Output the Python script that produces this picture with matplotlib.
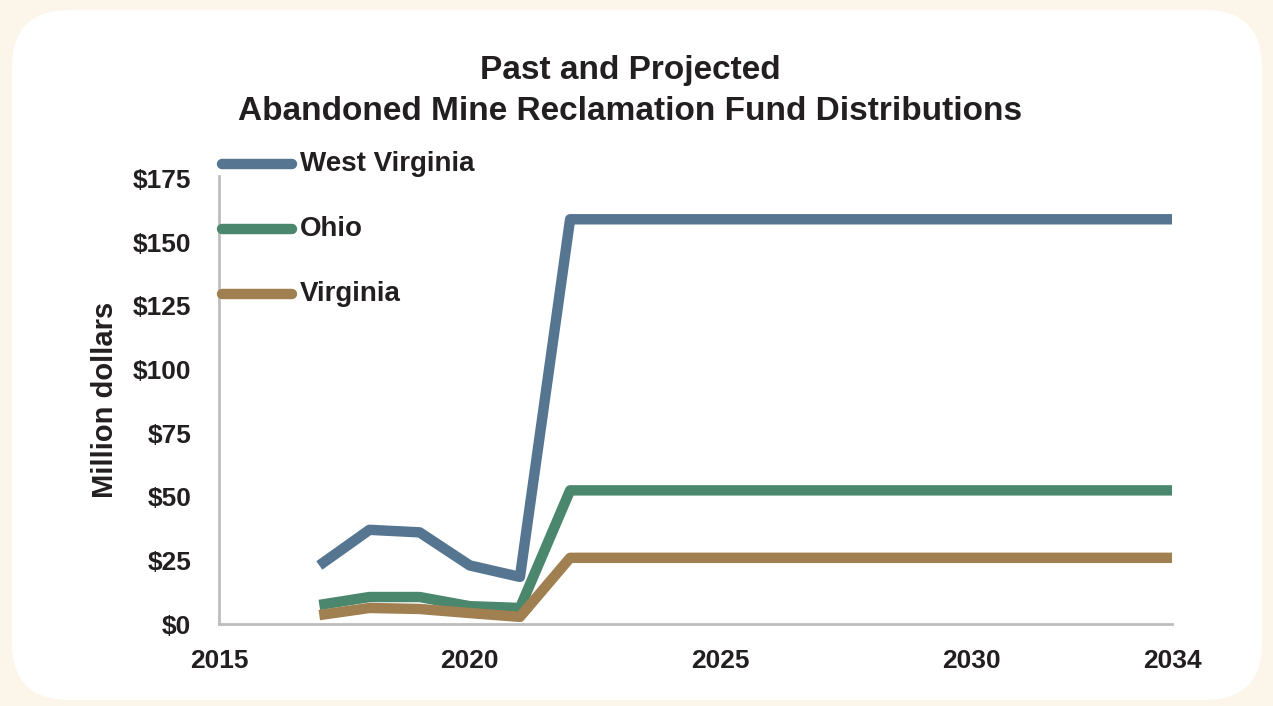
import matplotlib
matplotlib.use("Agg")
import matplotlib.pyplot as plt
from matplotlib.patches import FancyBboxPatch

plt.rcParams['font.family'] = ['Liberation Sans', 'DejaVu Sans']

years = [2017, 2018, 2019, 2020, 2021, 2022, 2034]
west_virginia = [23, 37, 36, 23, 18.5, 159, 159]
ohio = [7.5, 10.6, 10.6, 7, 6.3, 52.5, 52.5]
virginia = [3.5, 6.3, 5.9, 4.3, 2.8, 26, 26]
series_names = ["West Virginia", "Ohio", "Virginia"]
colors = ["#557591", "#4a876c", "#a08050"]
yticks = [0, 25, 50, 75, 100, 125, 150, 175]
xticks = [2015, 2020, 2025, 2030, 2034]

fig = plt.figure(figsize=(12.73, 7.06), dpi=100)
fig.patch.set_facecolor("#fcf5ea")
panel = FancyBboxPatch((12/1273, 6/706), 1250/1273, 690/706,
                       boxstyle="round,pad=0,rounding_size=0.045",
                       transform=fig.transFigure, facecolor="white",
                       edgecolor="none", mutation_aspect=1273/706, zorder=-5)
fig.patches.append(panel)

ax = fig.add_axes([219/1273, 1-624/706, (1172-219)/1273, (624-176)/706])
ax.set_facecolor("none")
ax.set_zorder(2)
for vals, c in zip([west_virginia, ohio, virginia], colors):
    ax.plot(years, vals, color=c, lw=7.5, solid_capstyle="butt",
            solid_joinstyle="round", clip_on=False, zorder=3)

ax.set_xlim(2015, 2034)
ax.set_ylim(0, 176)
ax.set_xticks(xticks)
ax.set_xticklabels([str(x) for x in xticks])
ax.set_yticks(yticks)
ax.set_yticklabels([f"${v}" for v in yticks])
ax.tick_params(length=0, labelsize=19, pad=20)
ax.tick_params(axis='x', pad=18)
for lab in ax.get_xticklabels() + ax.get_yticklabels():
    lab.set_fontweight("bold")
    lab.set_color("#231f20")
for s in ["top", "right"]:
    ax.spines[s].set_visible(False)
for s in ["left", "bottom"]:
    ax.spines[s].set_color("#bdbdbd")
    ax.spines[s].set_linewidth(2)
ax.set_ylabel("Million dollars", fontsize=21, fontweight="bold", color="#231f20", labelpad=10)

# legend
leg_y = [164, 229, 294]
for name, c, py in zip(series_names, colors, leg_y):
    yf = 1 - py/706
    fig.add_artist(plt.Line2D([222/1273, 292/1273], [yf, yf], color=c, lw=7.5,
                              solid_capstyle="round", transform=fig.transFigure, zorder=4))
    fig.text(300/1273, yf, name, fontsize=20, fontweight="bold", color="#231f20",
             va="center", ha="left")

fig.text(630/1273, 1-70/706, "Past and Projected", fontsize=24, fontweight="bold",
         color="#231f20", ha="center", va="center")
fig.text(630/1273, 1-111/706, "Abandoned Mine Reclamation Fund Distributions", fontsize=24,
         fontweight="bold", color="#231f20", ha="center", va="center")

fig.savefig("out.png", dpi=100, facecolor=fig.get_facecolor())
